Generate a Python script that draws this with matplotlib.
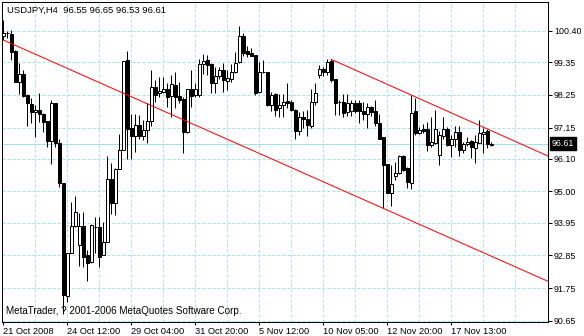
import numpy as np
import matplotlib
matplotlib.use("Agg")
import matplotlib.pyplot as plt
import matplotlib.transforms as mtransforms

# USDJPY H4 candles, 21 Oct 2008 -> 18 Nov 2008
opens = [100.22, 100.32, 100.31, 99.72, 98.68, 98.94, 98.24, 97.94, 97.67, 97.73,
         97.60, 97.36, 96.70, 97.96, 96.62, 95.27, 91.48, 92.94, 93.84, 93.19,
         93.84, 92.85, 92.64, 93.81, 93.81, 92.85, 93.30, 95.41, 94.62, 95.74,
         96.41, 99.41, 97.14, 96.87, 97.22, 96.87, 97.05, 97.36, 98.50, 98.32,
         98.35, 98.46, 98.20, 98.57, 98.20, 98.11, 97.01, 98.43, 98.24, 98.24,
         99.28, 99.41, 99.28, 98.63, 98.88, 99.10, 98.72, 98.77, 99.02, 99.36,
         100.22, 99.73, 99.66, 99.58, 98.35, 99.02, 99.02, 97.90, 98.27, 97.79,
         97.90, 98.04, 98.01, 97.73, 97.04, 97.49, 97.42, 97.20, 98.01, 98.91,
         99.13, 99.02, 99.39, 98.77, 98.01, 98.01, 97.68, 97.71, 97.96, 97.98,
         97.71, 97.60, 97.83, 97.71, 97.29, 96.84, 95.92, 94.94, 95.53, 95.61,
         96.19, 95.78, 95.29, 97.71, 96.97, 97.11, 97.10, 96.57, 96.64, 96.23,
         96.87, 97.09, 96.55, 96.75, 97.01, 96.41, 96.59, 96.68, 96.47, 96.64,
         96.92, 97.03, 96.55]
highs = [100.76, 100.39, 100.42, 99.75, 99.31, 99.08, 98.27, 98.14, 97.90, 98.31,
         97.63, 97.36, 98.07, 97.96, 96.78, 95.27, 92.94, 94.65, 94.85, 94.26,
         94.32, 93.03, 93.90, 94.13, 94.15, 93.97, 96.19, 95.96, 95.79, 96.93,
         99.40, 99.72, 97.59, 97.59, 97.57, 97.40, 97.96, 99.10, 98.74, 98.85,
         98.85, 98.63, 98.91, 99.02, 98.69, 98.18, 98.46, 99.10, 98.63, 99.47,
         99.62, 99.58, 99.32, 99.19, 99.19, 99.32, 99.10, 99.30, 99.69, 100.56,
         100.33, 99.88, 99.81, 99.60, 99.36, 99.41, 99.02, 98.35, 98.32, 98.27,
         98.27, 98.65, 98.07, 97.78, 97.68, 97.71, 97.73, 98.46, 98.65, 99.25,
         99.19, 99.44, 99.44, 98.77, 98.09, 98.27, 98.27, 98.07, 98.07, 98.07,
         98.01, 97.96, 97.87, 98.07, 97.60, 96.84, 95.92, 95.89, 96.00, 96.22,
         96.22, 95.83, 98.24, 98.13, 97.17, 97.26, 97.34, 97.51, 97.73, 97.04,
         97.51, 97.17, 96.89, 97.20, 97.20, 96.67, 96.84, 96.73, 96.89, 97.40,
         97.15, 97.09, 96.65]
lows = [100.09, 100.15, 99.41, 98.67, 98.27, 98.17, 97.20, 97.31, 96.84, 97.34,
        97.01, 96.50, 95.91, 96.50, 95.14, 90.88, 91.29, 92.94, 93.81, 92.49,
        92.47, 92.00, 92.60, 92.92, 92.45, 92.85, 93.30, 94.23, 94.20, 95.74,
        96.39, 96.08, 96.08, 96.33, 96.75, 96.73, 96.64, 97.20, 98.01, 98.18,
        98.32, 97.85, 97.51, 97.79, 97.96, 96.30, 96.95, 97.83, 98.18, 98.18,
        98.94, 98.91, 98.30, 98.32, 98.77, 98.35, 98.41, 98.68, 98.99, 99.32,
        99.55, 99.53, 99.55, 98.23, 98.32, 98.98, 97.87, 97.71, 97.53, 97.49,
        97.51, 97.79, 97.71, 96.75, 96.89, 97.15, 96.86, 97.15, 97.90, 98.80,
        98.88, 98.91, 98.68, 97.57, 97.57, 97.49, 97.53, 97.53, 97.64, 97.31,
        97.40, 97.12, 97.53, 97.20, 96.75, 94.43, 94.94, 94.51, 95.38, 95.58,
        95.69, 95.10, 95.07, 96.89, 96.94, 96.95, 96.37, 96.50, 96.59, 95.89,
        96.75, 96.52, 96.17, 96.50, 96.19, 96.28, 96.52, 96.14, 95.96, 96.62,
        96.30, 96.45, 96.53]
closes = [100.33, 100.34, 99.69, 98.68, 98.94, 98.20, 97.97, 97.68, 97.73, 97.60,
          97.33, 96.70, 97.96, 96.62, 95.27, 91.51, 92.94, 93.84, 94.30, 93.84,
          92.79, 92.58, 93.87, 93.82, 92.81, 93.30, 95.41, 94.62, 95.74, 96.41,
          99.37, 97.11, 96.87, 97.22, 96.87, 97.05, 97.36, 98.50, 98.24, 98.38,
          98.45, 98.18, 98.61, 98.18, 98.07, 97.01, 98.43, 98.20, 98.46, 99.30,
          99.39, 99.25, 98.63, 98.88, 99.10, 98.74, 98.80, 99.02, 99.32, 100.22,
          99.66, 99.62, 99.57, 98.32, 99.02, 99.01, 97.90, 98.24, 97.73, 97.90,
          98.01, 97.99, 97.73, 97.04, 97.49, 97.42, 97.23, 98.01, 98.32, 99.13,
          99.02, 99.36, 98.74, 97.98, 98.00, 97.64, 97.96, 97.96, 97.71, 97.71,
          97.60, 97.83, 97.68, 97.31, 96.78, 95.89, 94.96, 95.25, 95.61, 96.19,
          95.72, 95.33, 97.64, 96.95, 97.06, 97.04, 96.56, 96.66, 97.10, 96.89,
          97.09, 96.55, 96.78, 97.01, 96.41, 96.59, 96.67, 96.48, 96.65, 96.95,
          97.00, 96.58, 96.61]

date_bars = [0, 16, 32, 48, 64, 80, 96, 112]
date_labels = ["21 Oct 2008", "24 Oct 12:00", "29 Oct 04:00", "31 Oct 20:00",
               "5 Nov 12:00", "10 Nov 05:00", "12 Nov 20:00", "17 Nov 13:00"]
price_ticks = [100.40, 99.35, 98.25, 97.15, 96.10, 95.00, 93.95, 92.85, 91.75, 90.65]

# trend lines: (bar, price) anchors, extended to the right edge
upper_line = [(82, 99.44), (102, 98.24)]
lower_line = [(0, 100.09), (95, 94.43)]
bid = 96.61

plt.rcParams['font.family'] = ['Liberation Sans', 'DejaVu Sans']
plt.rcParams['lines.scale_dashes'] = False

PX = 72 / 100  # one pixel in points
grid_col = '#a0e4e4'

fig = plt.figure(figsize=(5.84, 3.36), dpi=100)
ax = fig.add_axes([2 / 584, 14 / 336, 546 / 584, 320 / 336])
x_min, x_max = -0.35, 136.15
ax.set_xlim(x_min, x_max)
ax.set_ylim(90.61, 101.37)

# grid
for b in range(8, 136, 8):
    ax.axvline(b, color=grid_col, lw=PX, dashes=(3 * PX, 2 * PX), zorder=1)
for p in price_ticks:
    ax.axhline(p, color=grid_col, lw=PX, dashes=(3 * PX, 2 * PX), zorder=1)
ax.axhline(bid, color=grid_col, lw=PX, zorder=1)

o = np.array(opens)
c = np.array(closes)
idx = np.arange(len(o))
ax.vlines(idx, lows, highs, color='black', lw=PX, zorder=3)
ax.bar(idx, np.abs(c - o), bottom=np.minimum(o, c), width=0.6,
       color=np.where(c >= o, 'white', 'black'), edgecolor='black',
       linewidth=PX, zorder=4)

for (b0, p0), (b1, p1) in (upper_line, lower_line):
    slope = (p1 - p0) / (b1 - b0)
    ax.plot([b0, x_max], [p0, p0 + slope * (x_max - b0)], color='red', lw=PX, zorder=5)

for s in ax.spines.values():
    s.set_linewidth(PX)
    s.set_color('black')

ax.yaxis.tick_right()
ax.set_yticks(price_ticks)
ax.set_yticklabels([f"{p:.2f}" for p in price_ticks])
ax.tick_params(axis='y', length=4 * PX, width=PX, pad=1.5, labelsize=6.4)
ax.set_xticks(date_bars)
ax.set_xticklabels(date_labels)
ax.tick_params(axis='x', length=3 * PX, width=PX, pad=1.5, labelsize=6.7)
for lbl in ax.get_xticklabels():
    lbl.set_ha('left')

trans = mtransforms.blended_transform_factory(ax.transAxes, ax.transData)
ax.text(1 + 4 / 546, bid, f"{bid:.2f}", transform=trans, color='white',
        va='center', ha='left', fontsize=6.4,
        bbox=dict(boxstyle='square,pad=0.2', fc='black', ec='black'))

fig.text(7 / 584, 1 - 10.5 / 336, "USDJPY,H4  96.55 96.65 96.53 96.61",
         ha='left', va='center', fontsize=6.8)
fig.text(6 / 584, 1 - 311 / 336, "MetaTrader, ? 2001-2006 MetaQuotes Software Corp.",
         ha='left', va='center', fontsize=7.1)

fig.savefig("out.png", dpi=100)
